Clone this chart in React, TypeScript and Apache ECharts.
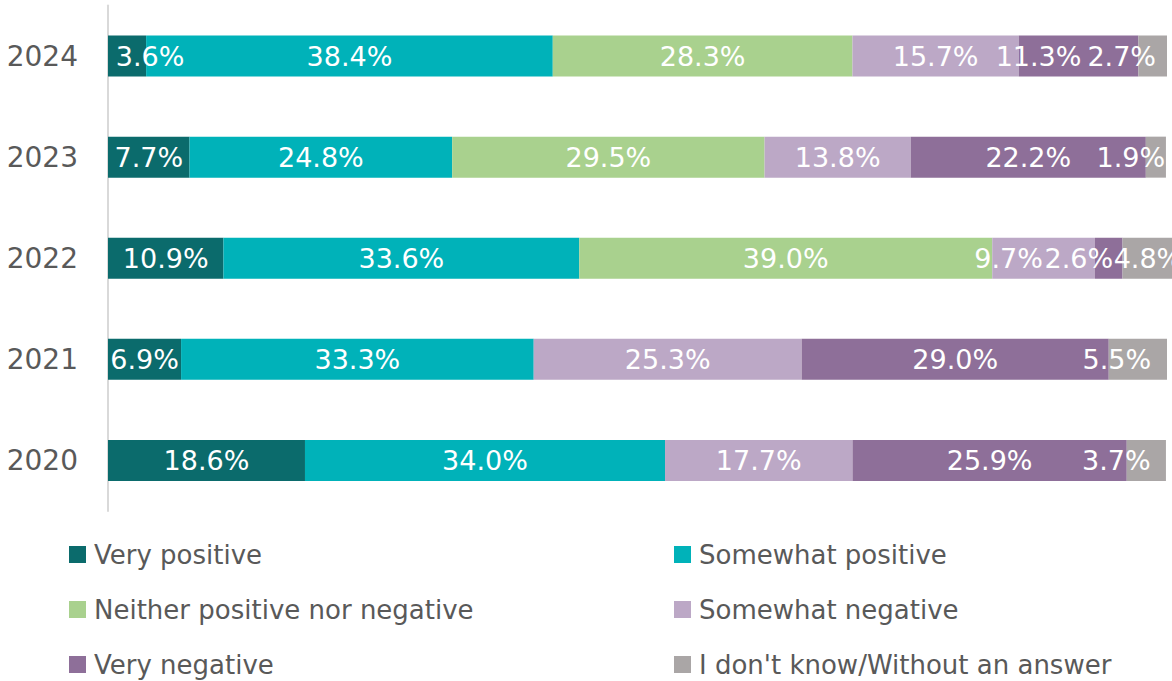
import React, { useEffect, useRef } from "react";
import * as echarts from "echarts";

const years = ["2024", "2023", "2022", "2021", "2020"];
const veryPositive = [3.6, 7.7, 10.9, 6.9, 18.6];
const somewhatPositive = [38.4, 24.8, 33.6, 33.3, 34.0];
const neither = [28.3, 29.5, 39.0, null, null];
const somewhatNegative = [15.7, 13.8, 9.7, 25.3, 17.7];
const veryNegative = [11.3, 22.2, 2.6, 29.0, 25.9];
const dontKnow = [2.7, 1.9, 4.8, 5.5, 3.7];

const seriesDefs = [
  { name: "Very positive", data: veryPositive, color: "#0b6b6c" },
  { name: "Somewhat positive", data: somewhatPositive, color: "#00b2b9" },
  { name: "Neither positive nor negative", data: neither, color: "#a9d18e" },
  { name: "Somewhat negative", data: somewhatNegative, color: "#bca8c6" },
  { name: "Very negative", data: veryNegative, color: "#8e6f99" },
  { name: "I don't know/Without an answer", data: dontKnow, color: "#aaa6a6" },
];

// label horizontal nudges (series index -> year index -> px), to mimic the reference's label placement
const labelNudges: Record<number, Record<number, number>> = {
  0: { 0: 23 },
  3: { 2: -35 },
  4: { 0: -40, 2: -30 },
  5: { 0: -31, 1: -25, 3: -21, 4: -30 },
};

// legend layout: [column x, row center y]
const legendSlots = [
  [69, 554.5],
  [674, 554.5],
  [69, 609.5],
  [674, 609.5],
  [69, 664.5],
  [674, 664.5],
];

const FONT = "'DejaVu Sans', sans-serif";

export default function App() {
  const ref = useRef<HTMLDivElement>(null);
  useEffect(() => {
    if (!ref.current) return;
    const chart = echarts.init(ref.current, undefined, { renderer: "svg" });
    const legendText = { color: "#595959", fontSize: 26, fontFamily: FONT, lineHeight: 30, padding: [0, 0, 0, 3] };
    chart.setOption({
      animation: false,
      grid: { left: 108, right: 5, top: 5.5, bottom: 170, containLabel: false },
      xAxis: { type: "value", min: 0, max: 100, show: false },
      yAxis: {
        type: "category",
        data: years,
        inverse: true,
        axisLine: { show: true, lineStyle: { color: "#d9d9d9", width: 2 } },
        axisTick: { show: false },
        axisLabel: { color: "#595959", fontSize: 28, fontFamily: FONT, margin: 30 },
      },
      legend: seriesDefs.map((s, i) => ({
        left: legendSlots[i][0],
        top: legendSlots[i][1] - 15,
        padding: 0,
        itemWidth: 17,
        itemHeight: 17,
        icon: "rect",
        selectedMode: false,
        textStyle: legendText,
        data: [s.name],
      })),
      series: seriesDefs.map((s, si) => ({
        name: s.name,
        type: "bar",
        stack: "total",
        barWidth: 41,
        clip: false,
        data: s.data.map((v, yi) => {
          if (v == null) return "-";
          const nudge = labelNudges[si] && labelNudges[si][yi];
          return nudge ? { value: v, label: { offset: [nudge, 0] } } : v;
        }),
        itemStyle: { color: s.color },
        label: {
          show: true,
          position: "inside",
          color: "#ffffff",
          fontSize: 27,
          fontFamily: FONT,
          formatter: (p: any) => (typeof p.value === "number" ? p.value.toFixed(1) + "%" : ""),
        },
      })),
    });
    return () => chart.dispose();
  }, []);
  return <div ref={ref} style={{ width: 1172, height: 681, position: "absolute", left: 0, top: 0 }} />;
}
